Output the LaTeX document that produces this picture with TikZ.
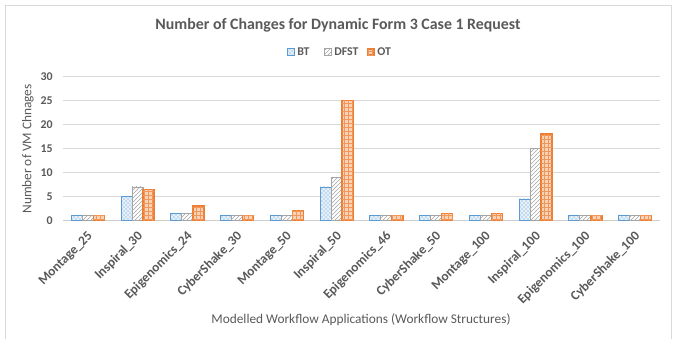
\documentclass[tikz,border=0pt]{standalone}
\usepackage{fontspec}
\setmainfont{Carlito}
\usetikzlibrary{patterns}

\definecolor{btblue}{HTML}{5B9BD5}
\definecolor{dfstgray}{HTML}{A5A5A5}
\definecolor{otorange}{HTML}{ED7D31}
\definecolor{txtgray}{HTML}{595959}
\definecolor{gridgray}{HTML}{D9D9D9}

\tikzset{
	btbar/.style={draw=btblue, line width=0.6pt, fill=btblue!15,
		postaction={pattern=crosshatch dots, pattern color=btblue}},
	dfstbar/.style={draw=dfstgray, line width=0.6pt, fill=white,
		postaction={pattern=north east lines, pattern color=dfstgray}},
	otbar/.style={draw=otorange, line width=1.1pt, fill=otorange!35,
		postaction={pattern=grid, pattern color=otorange!80}},
	gridline/.style={draw=gridgray, line width=0.75pt},
	ticklabel/.style={anchor=east, text=txtgray, font=\bfseries\fontsize{8.9}{10}\selectfont, inner sep=0pt},
	catlabel/.style={anchor=east, rotate=45, text=txtgray, font=\bfseries\fontsize{10}{11}\selectfont, inner sep=0pt},
	axistitle/.style={text=txtgray, font=\fontsize{10}{12}\selectfont, inner sep=0pt},
	legendtext/.style={anchor=west, text=txtgray, font=\bfseries\fontsize{8.9}{10}\selectfont, inner sep=0pt}
}

\begin{document}
\begin{tikzpicture}[x=0.75pt,y=-0.75pt]
	\useasboundingbox (0,0) rectangle (673,339);
	
	% Chart frame
	\draw[gridgray, line width=0.75pt] (5,339) -- (5,5) -- (671,5) -- (671,339);
	
	% Title and legend
	\node[text=txtgray, font=\bfseries\fontsize{11.9}{14}\selectfont] (title) at (338,25) {Number of Changes for Dynamic Form 3 Case 1 Request};
	\draw[btbar] (287,48.5) rectangle (294,55.5);
	\node[legendtext] (legbt) at (297,52) {BT};
	\draw[dfstbar] (324,48.5) rectangle (331,55.5);
	\node[legendtext] (legdfst) at (334,52) {DFST};
	\draw[otbar] (367.5,49) rectangle (374,55);
	\node[legendtext] (legot) at (377,52) {OT};
	
	% Grid lines and value axis
	\foreach \v in {0,5,...,30}{
		\draw[gridline] (63,{220.5-4.8*\v}) -- (660,{220.5-4.8*\v});
		\node[ticklabel] (tick\v) at (53,{220.5-4.8*\v}) {\v};
	}
	\draw[draw=gridgray!80!black!60, line width=0.75pt] (63,220.5) -- (660,220.5);
	
	% Bars: BT, DFST, OT per workflow
	\foreach \name/\bt/\df/\ot [count=\i from 0] in {
		Montage\_25/1/1/1, Inspiral\_30/5/7/6.5, Epigenomics\_24/1.5/1.5/3,
		CyberShake\_30/1/1/1, Montage\_50/1/1/2, Inspiral\_50/7/9/25,
		Epigenomics\_46/1/1/1, CyberShake\_50/1/1/1.5, Montage\_100/1/1/1.5,
		Inspiral\_100/4.5/15/18, Epigenomics\_100/1/1/1, CyberShake\_100/1/1/1}{
		\pgfmathsetmacro{\cx}{63+49.75*(\i+0.5)}
		\draw[btbar] ({\cx-16.5},220.5) rectangle ({\cx-5.5},{220.5-4.8*\bt});
		\draw[dfstbar] ({\cx-5.5},220.5) rectangle ({\cx+5.5},{220.5-4.8*\df});
		\draw[otbar] ({\cx+5.5},220.5) rectangle ({\cx+16.5},{220.5-4.8*\ot});
		\node[catlabel] (cat\i) at ({\cx+3},234) {\name};
	}
	
	% Axis titles
	\node[axistitle, rotate=90] (ytitle) at (28,149) {Number of VM Chnages};
	\node[axistitle] (xtitle) at (361,320) {Modelled Workflow Applications (Workflow Structures)};
\end{tikzpicture}
\end{document}
